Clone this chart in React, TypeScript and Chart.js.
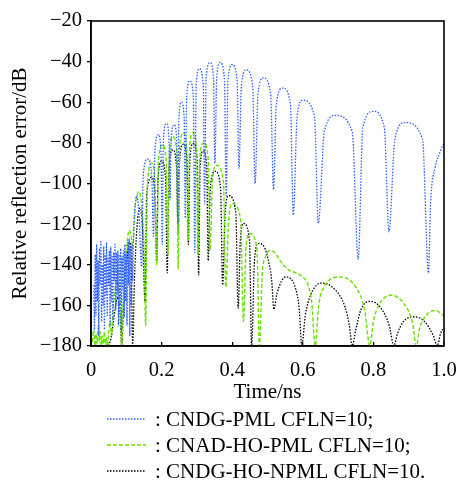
import React, { useEffect, useRef } from 'react';
import { Chart, registerables } from 'chart.js';

Chart.register(...registerables);

// ---------- data ----------
const seriesNames = ['CNDG-PML CFLN=10;', 'CNAD-HO-PML CFLN=10;', 'CNDG-HO-NPML CFLN=10.'];
const xTickLabels = ['0', '0.2', '0.4', '0.6', '0.8', '1.0'];
const yTickLabels = ['\u2212180', '\u2212160', '\u2212140', '\u2212120', '\u2212100', '\u221280', '\u221260', '\u221240', '\u221220'];
const xAxisTitle = 'Time/ns';
const yAxisTitle = 'Relative reflection error/dB';

const blueTime = [
  0.008, 0.010, 0.012, 0.014, 0.016, 0.018, 0.020, 0.022, 0.024, 0.026, 0.028, 0.030, 0.032, 0.034,
  0.036, 0.038, 0.040, 0.042, 0.044, 0.046, 0.048, 0.050, 0.052, 0.054, 0.056, 0.058, 0.060, 0.062,
  0.064, 0.066, 0.068, 0.070, 0.072, 0.074, 0.076, 0.078, 0.080, 0.082, 0.084, 0.086, 0.088, 0.090,
  0.092, 0.094, 0.096, 0.098, 0.100, 0.102, 0.104, 0.106, 0.108, 0.110, 0.112, 0.114, 0.116, 0.118,
  0.121, 0.125, 0.129, 0.136, 0.143, 0.148, 0.160, 0.172, 0.177, 0.181, 0.191, 0.198, 0.202, 0.205,
  0.214, 0.221, 0.224, 0.227, 0.235, 0.243, 0.246, 0.249, 0.256, 0.264, 0.267, 0.271, 0.280, 0.290,
  0.294, 0.298, 0.307, 0.318, 0.322, 0.326, 0.337, 0.347, 0.351, 0.356, 0.366, 0.378, 0.383, 0.388,
  0.400, 0.414, 0.419, 0.426, 0.440, 0.458, 0.465, 0.473, 0.488, 0.509, 0.517, 0.525, 0.543, 0.565,
  0.573, 0.584, 0.600, 0.633, 0.644, 0.661, 0.693, 0.740, 0.757, 0.770, 0.800, 0.831, 0.844, 0.861,
  0.890, 0.939, 0.956, 0.962, 0.975, 0.990, 1.000,
];
const blueDb = [
  -150, -172, -135, -165, -130, -158, -138, -175, -132, -150, -128, -168, -140, -160,
  -131, -172, -135, -155, -129, -165, -137, -150, -133, -170, -131, -158, -136, -167,
  -134, -148, -130, -162, -134, -155, -133, -170, -135, -160, -132, -173, -136, -152,
  -133, -166, -130, -158, -134, -170, -129, -150, -127, -175, -131, -160, -130, -148,
  -124, -112, -106, -115, -141, -96, -88, -96, -126, -84, -76, -84, -130, -78.5,
  -70.5, -78.5, -108, -79, -71, -79, -120, -68, -60, -68, -117, -57.5, -49.5, -57.5,
  -134, -51.5, -43.5, -51.5, -110, -48.5, -40.5, -48.5, -90, -48.5, -40.5, -48.5, -106, -49.5,
  -41.5, -49.5, -92.5, -52, -44, -52, -100, -56, -48, -56, -103, -61, -53, -61,
  -115.5, -67, -59, -67, -119.6, -74.5, -66.5, -74.5, -137.4, -72.5, -64.5, -72.5, -123.8, -78,
  -70, -78, -144, -110, -92, -84, -80,
];

const greenTime = [
  0.004, 0.008, 0.011, 0.014, 0.017, 0.020, 0.023, 0.026, 0.029, 0.032, 0.035, 0.038, 0.041, 0.044,
  0.047, 0.050, 0.054, 0.058, 0.062, 0.067, 0.072, 0.078, 0.083, 0.087, 0.091, 0.097, 0.103, 0.108,
  0.113, 0.118, 0.124, 0.130, 0.136, 0.143, 0.150, 0.155, 0.160, 0.172, 0.181, 0.186, 0.191, 0.203,
  0.213, 0.218, 0.222, 0.232, 0.243, 0.247, 0.251, 0.262, 0.271, 0.275, 0.279, 0.289, 0.299, 0.303,
  0.308, 0.319, 0.332, 0.337, 0.344, 0.355, 0.375, 0.382, 0.390, 0.401, 0.424, 0.432, 0.439, 0.449,
  0.470, 0.477, 0.485, 0.495, 0.507, 0.520, 0.540, 0.560, 0.580, 0.600, 0.615, 0.625, 0.635, 0.645,
  0.660, 0.705, 0.750, 0.775, 0.790, 0.800, 0.815, 0.850, 0.890, 0.910, 0.922, 0.930, 0.945, 0.975,
  1.000,
];
const greenDb = [
  -178, -172, -180, -174, -179, -171, -178, -173, -180, -175, -179, -173, -180, -176,
  -180, -174, -168, -175, -163, -154, -148, -150, -163, -180, -160, -142, -128, -123,
  -125, -132, -113, -106, -104, -110, -130, -170, -99, -90, -99, -140, -89, -81,
  -89, -135, -85, -77, -85, -142, -83, -75, -83, -128, -83, -75, -83, -135,
  -88, -80, -88, -133, -99, -91, -99, -151, -118, -110, -118, -168, -132, -124.6,
  -132, -180, -145, -136, -133, -134, -139, -142.5, -144, -146, -150, -158, -180, -160,
  -151, -146, -151, -162, -180, -168, -160, -155, -160, -168, -180, -172, -166, -162.5,
  -165,
];

const blackTime = [
  0.050, 0.058, 0.065, 0.072, 0.077, 0.082, 0.087, 0.092, 0.098, 0.104, 0.110, 0.114, 0.118, 0.123,
  0.130, 0.139, 0.146, 0.153, 0.158, 0.172, 0.181, 0.186, 0.190, 0.200, 0.211, 0.216, 0.221, 0.232,
  0.242, 0.247, 0.251, 0.262, 0.272, 0.276, 0.280, 0.290, 0.301, 0.305, 0.309, 0.318, 0.328, 0.332,
  0.338, 0.352, 0.367, 0.373, 0.380, 0.390, 0.410, 0.417, 0.423, 0.432, 0.449, 0.455, 0.463, 0.474,
  0.490, 0.505, 0.512, 0.518, 0.527, 0.552, 0.580, 0.590, 0.597, 0.607, 0.622, 0.652, 0.690, 0.720,
  0.732, 0.740, 0.750, 0.765, 0.790, 0.820, 0.845, 0.858, 0.868, 0.885, 0.913, 0.945, 0.970, 0.981,
  0.990, 1.000,
];
const blackDb = [
  -180, -175, -166, -158, -156, -163, -180, -162, -145, -134, -129, -138, -180, -148,
  -122, -112, -122, -158, -105, -97, -105, -139, -97, -89, -97, -144, -91.5, -83.5,
  -91.5, -125, -88.5, -80.6, -88.5, -130, -88.3, -80.3, -88.3, -145, -92, -84, -92, -138,
  -102, -94, -102, -150, -114, -106, -114, -161.5, -128, -119.7, -128, -180, -138, -129.5,
  -131, -140, -148, -162, -154, -146, -152, -162, -180, -165, -155, -149, -152, -161,
  -170, -180, -172, -162, -158, -161, -170, -180, -174, -168, -165.6, -168, -175, -180,
  -174, -171,
];

// ---------- helpers ----------
const toPoints = (xs: number[], ys: number[]) => xs.map((x, i) => ({ x, y: ys[i] }));

const FONT = '"Liberation Serif", "Times New Roman", serif';

const framePlugin = {
  id: 'frame',
  afterDatasetsDraw(chart: any) {
    const { ctx, chartArea } = chart;
    ctx.save();
    ctx.strokeStyle = '#000';
    ctx.lineWidth = 1.6;
    ctx.strokeRect(chartArea.left, chartArea.top, chartArea.right - chartArea.left, chartArea.bottom - chartArea.top);
    ctx.restore();
  },
};

const legendPlugin = {
  id: 'bottomLegend',
  afterDraw(chart: any) {
    const { ctx } = chart;
    const rows = [419, 445, 471];
    chart.data.datasets.forEach((ds: any, i: number) => {
      const y = rows[i];
      ctx.save();
      ctx.strokeStyle = ds.borderColor;
      ctx.lineWidth = ds.borderWidth;
      ctx.setLineDash(ds.borderDash || []);
      ctx.beginPath();
      ctx.moveTo(107, y);
      ctx.lineTo(146, y);
      ctx.stroke();
      ctx.setLineDash([]);
      ctx.fillStyle = '#000';
      ctx.font = `21px ${FONT}`;
      ctx.textAlign = 'left';
      ctx.textBaseline = 'middle';
      ctx.fillText(': ' + ds.label, 155, y + 1);
      ctx.restore();
    });
  },
};

export default function App() {
  const canvasRef = useRef<HTMLCanvasElement | null>(null);

  useEffect(() => {
    if (!canvasRef.current) return;
    const common = {
      pointRadius: 0,
      fill: false,
      cubicInterpolationMode: 'monotone' as const,
    };
    const chart = new Chart(canvasRef.current, {
      type: 'line',
      data: {
        datasets: [
          {
            ...common,
            label: seriesNames[0],
            data: toPoints(blueTime, blueDb),
            borderColor: 'rgb(45, 95, 255)',
            borderWidth: 1.3,
            borderDash: [1.5, 1.5],
          },
          {
            ...common,
            label: seriesNames[1],
            data: toPoints(greenTime, greenDb),
            borderColor: 'rgb(105, 225, 0)',
            borderWidth: 1.4,
            borderDash: [4, 2],
          },
          {
            ...common,
            label: seriesNames[2],
            data: toPoints(blackTime, blackDb),
            borderColor: '#000',
            borderWidth: 1.3,
            borderDash: [1.5, 1.5],
          },
        ],
      },
      options: {
        responsive: false,
        animation: false,
        devicePixelRatio: 1,
        layout: { padding: { left: 0, right: 13, top: 21, bottom: 74 } },
        plugins: {
          legend: { display: false },
          tooltip: { enabled: false },
        },
        scales: {
          x: {
            type: 'linear',
            min: 0,
            max: 1,
            afterFit: (s: any) => { s.height = 60; s.paddingLeft = 0; s.paddingRight = 0; },
            ticks: {
              stepSize: 0.2,
              padding: 16,
              color: '#000',
              font: { family: FONT, size: 20.5 },
              maxRotation: 0,
              callback: (_v: any, i: number) => xTickLabels[i],
            },
            grid: { drawOnChartArea: false, tickLength: -4, color: '#000', lineWidth: 1.3 },
            border: { color: '#000', width: 1.6 },
            title: {
              display: true,
              text: xAxisTitle,
              color: '#000',
              font: { family: FONT, size: 21 },
              padding: { top: 0, bottom: 0.5 },
            },
          },
          y: {
            type: 'linear',
            min: -180,
            max: -20,
            afterFit: (s: any) => { s.width = 91; s.paddingTop = 0; s.paddingBottom = 0; },
            ticks: {
              stepSize: 20,
              padding: 5,
              color: '#000',
              font: { family: FONT, size: 20.5 },
              callback: (_v: any, i: number) => yTickLabels[i],
            },
            grid: { drawOnChartArea: false, tickLength: 4, color: '#000', lineWidth: 1.3 },
            border: { color: '#000', width: 1.6 },
            title: {
              display: true,
              text: yAxisTitle,
              color: '#000',
              font: { family: FONT, size: 21 },
              padding: { top: 8, bottom: 0 },
            },
          },
        },
      },
      plugins: [framePlugin, legendPlugin],
    });
    return () => chart.destroy();
  }, []);

  return (
    <div style={{ position: 'fixed', left: 0, top: 0, width: 457, height: 480, background: '#fff' }}>
      <canvas ref={canvasRef} width={457} height={480} style={{ width: 457, height: 480 }} />
    </div>
  );
}
